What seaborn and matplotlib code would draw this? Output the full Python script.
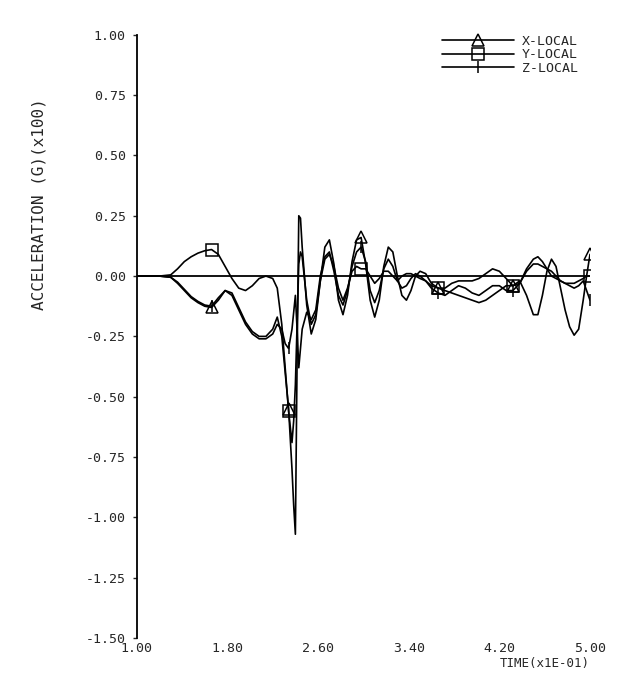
import numpy as np
import pandas as pd
import matplotlib
matplotlib.use("Agg")
import matplotlib.pyplot as plt
import seaborn as sns

# ===============================
# DATA
# ===============================
time = [1.00, 1.10, 1.20, 1.30, 1.36, 1.42, 1.48, 1.54, 1.60, 1.66,
        1.72, 1.78, 1.84, 1.90, 1.96, 2.02, 2.08, 2.14, 2.20, 2.24,
        2.28, 2.31, 2.34, 2.37, 2.385, 2.40, 2.415, 2.43, 2.445, 2.46,
        2.50, 2.54, 2.58, 2.62, 2.66, 2.70, 2.74, 2.78, 2.82, 2.86,
        2.90, 2.94, 2.98, 3.02, 3.06, 3.10, 3.14, 3.18, 3.22, 3.26,
        3.30, 3.34, 3.38, 3.42, 3.46, 3.50, 3.55, 3.60, 3.66, 3.72,
        3.78, 3.84, 3.90, 3.96, 4.02, 4.08, 4.14, 4.20, 4.26, 4.32,
        4.38, 4.44, 4.50, 4.54, 4.58, 4.62, 4.66, 4.70, 4.74, 4.78,
        4.82, 4.86, 4.90, 4.94, 4.97, 5.00]

x_local = [0.0, 0.0, 0.0, -0.005, -0.03, -0.06, -0.09, -0.11, -0.125, -0.13,
           -0.10, -0.06, -0.07, -0.13, -0.19, -0.23, -0.25, -0.25, -0.22, -0.17,
           -0.25, -0.40, -0.55, -0.80, -0.95, -1.07, -0.35, 0.25, 0.24, 0.12,
           -0.12, -0.24, -0.18, -0.02, 0.12, 0.15, 0.05, -0.10, -0.16, -0.08,
           0.06, 0.15, 0.16, 0.05, -0.10, -0.17, -0.10, 0.04, 0.12, 0.10,
           0.00, -0.08, -0.10, -0.06, 0.00, 0.02, 0.01, -0.03, -0.05, -0.06,
           -0.07, -0.08, -0.09, -0.10, -0.11, -0.10, -0.08, -0.06, -0.04, -0.04,
           -0.02, -0.08, -0.16, -0.16, -0.08, 0.02, 0.07, 0.04, -0.05, -0.14,
           -0.21, -0.245, -0.22, -0.10, 0.00, 0.09]

y_local = [0.0, 0.0, 0.0, 0.005, 0.03, 0.06, 0.08, 0.095, 0.105, 0.11,
           0.09, 0.04, -0.01, -0.05, -0.06, -0.04, -0.01, 0.00, -0.01, -0.05,
           -0.20, -0.38, -0.56, -0.69, -0.60, -0.45, -0.20, 0.05, 0.10, 0.08,
           -0.10, -0.20, -0.16, -0.02, 0.07, 0.09, 0.04, -0.05, -0.10, -0.05,
           0.02, 0.04, 0.03, 0.03, 0.00, -0.03, -0.01, 0.02, 0.02, 0.00,
           -0.02, 0.00, 0.01, 0.01, 0.00, -0.01, -0.02, -0.04, -0.05, -0.05,
           -0.03, -0.02, -0.02, -0.02, -0.01, 0.01, 0.03, 0.02, -0.01, -0.04,
           -0.03, 0.02, 0.05, 0.05, 0.04, 0.03, 0.02, 0.00, -0.02, -0.03,
           -0.03, -0.03, -0.02, -0.01, 0.00, 0.00]

z_local = [0.0, 0.0, 0.0, -0.005, -0.025, -0.055, -0.085, -0.105, -0.12, -0.125,
           -0.09, -0.06, -0.08, -0.14, -0.20, -0.24, -0.26, -0.26, -0.24, -0.20,
           -0.22, -0.28, -0.30, -0.22, -0.15, -0.08, -0.22, -0.38, -0.30, -0.22,
           -0.15, -0.18, -0.14, 0.00, 0.08, 0.10, 0.02, -0.08, -0.12, -0.06,
           0.04, 0.10, 0.12, 0.06, -0.06, -0.11, -0.06, 0.03, 0.07, 0.04,
           -0.02, -0.05, -0.04, -0.01, 0.01, 0.00, -0.02, -0.05, -0.07, -0.08,
           -0.06, -0.04, -0.05, -0.07, -0.08, -0.06, -0.04, -0.04, -0.06, -0.06,
           -0.03, 0.03, 0.07, 0.08, 0.06, 0.03, 0.00, -0.01, -0.02, -0.03,
           -0.04, -0.05, -0.04, -0.02, -0.06, -0.10]

series_names = ["X-LOCAL", "Y-LOCAL", "Z-LOCAL"]
marker_times = [1.66, 2.34, 2.98, 3.66, 4.32, 5.00]

y_ticks = [1.00, 0.75, 0.50, 0.25, 0.00, -0.25, -0.50, -0.75, -1.00, -1.25, -1.50]
x_ticks = [1.00, 1.80, 2.60, 3.40, 4.20, 5.00]

df = pd.DataFrame({"time": time, "X-LOCAL": x_local,
                   "Y-LOCAL": y_local, "Z-LOCAL": z_local})

# ===============================
# STYLE
# ===============================
sns.set_style("white")
plt.rcParams["font.family"] = ["DejaVu Sans Mono"]
plt.rcParams["axes.unicode_minus"] = False

fig = plt.figure(figsize=(6.42, 6.82), dpi=100)
ax = fig.add_axes([0.213, 0.0645, 0.706, 0.8845])

mark_idx = [int(np.argmin(np.abs(df["time"].values - t))) for t in marker_times]
markers = {"X-LOCAL": "^", "Y-LOCAL": "s", "Z-LOCAL": "|"}
msizes = {"X-LOCAL": 8, "Y-LOCAL": 8, "Z-LOCAL": 9}

for name in series_names:
    sns.lineplot(data=df, x="time", y=name, ax=ax, color="black", lw=1.2,
                 marker=markers[name], markersize=msizes[name], markevery=mark_idx,
                 markerfacecolor="none", markeredgecolor="black",
                 markeredgewidth=1.1, label=name, sort=False)

ax.axhline(0, color="black", lw=1.3, zorder=1)

ax.set_xlim(1.0, 5.0)
ax.set_ylim(-1.5, 1.0)
ax.set_yticks(y_ticks)
ax.set_yticklabels([f"{v:.2f}" for v in y_ticks])
ax.set_xticks(x_ticks)
ax.set_xticklabels([f"{v:.2f}" for v in x_ticks])
ax.tick_params(axis="y", direction="out", length=3, width=1, pad=5,
               labelsize=9.5, left=True)
ax.tick_params(axis="x", length=0, pad=3, labelsize=9.5)

for s in ["top", "right", "bottom"]:
    ax.spines[s].set_visible(False)
ax.spines["left"].set_color("black")
ax.spines["left"].set_linewidth(1.3)

ax.set_xlabel("TIME(x1E-01)", loc="right", fontsize=9, labelpad=1)
ax.set_ylabel("")
fig.text(0.06, 0.70, "ACCELERATION (G)(x100)", rotation=90,
         va="center", ha="center", fontsize=11.5)

ax.legend(loc="upper right", bbox_to_anchor=(1.0, 1.02), frameon=False,
          handlelength=5.5, fontsize=9.5, labelspacing=0.05, handletextpad=0.6)

fig.savefig("out.png", dpi=100)
